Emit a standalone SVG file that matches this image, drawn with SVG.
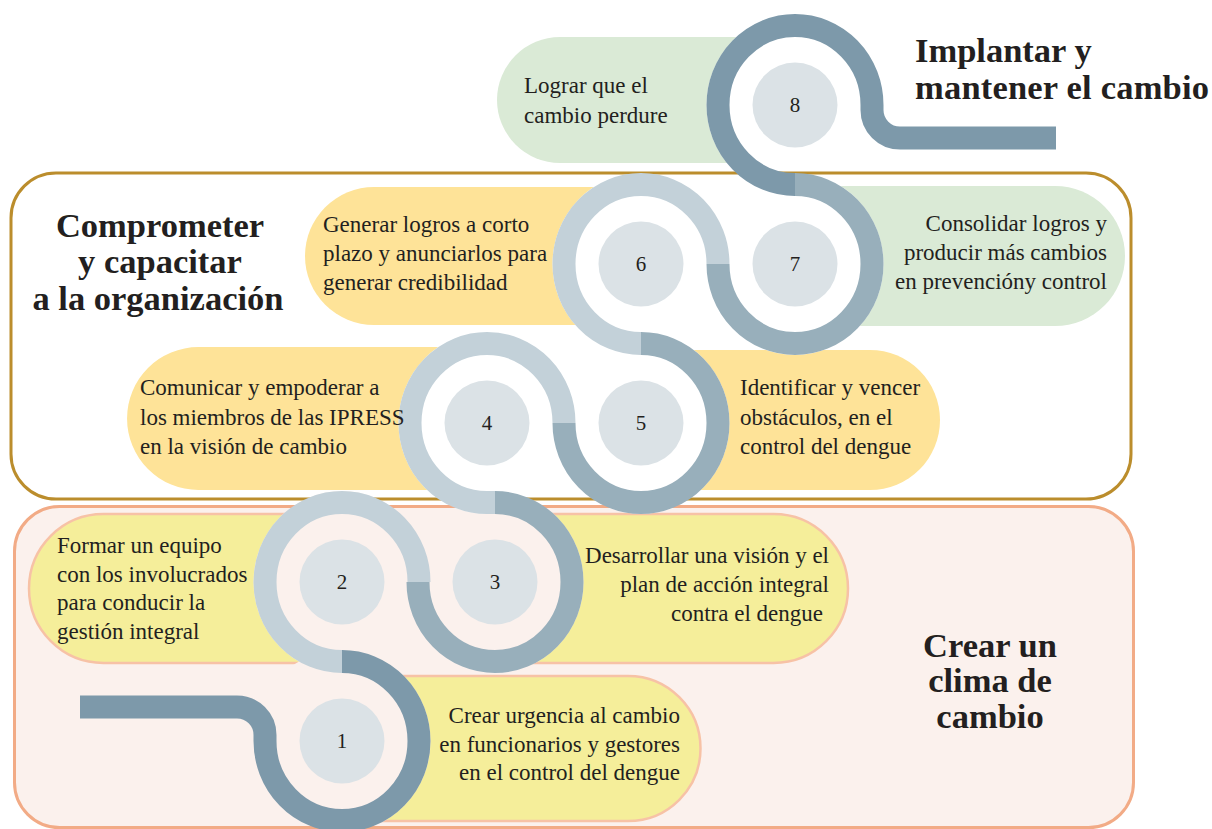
<svg xmlns="http://www.w3.org/2000/svg" width="1212" height="829" viewBox="0 0 1212 829">
<defs>
<style>
.t{font-family:"Liberation Serif","Times New Roman",serif;font-size:23px;fill:#231f20}
.h{font-family:"Liberation Serif","Times New Roman",serif;font-size:34.5px;font-weight:bold;fill:#231f20}
.n{font-family:"Liberation Serif","Times New Roman",serif;font-size:21px;fill:#231f20;text-anchor:middle}
.e{text-anchor:end}
.m{text-anchor:middle}
.yb{fill:#f5ee9a;stroke:#f7c2a6;stroke-width:2.5}
.ob{fill:#fee398}
.gb{fill:#daead6}
.dp{fill:#fbf1ed}
.dw{fill:#ffffff}
.r{fill:none;stroke-width:23}
.rd{stroke:#7d99aa}
.rm{stroke:#98afbb}
.rl{stroke:#c3d1d9}
.ic{fill:#dbe2e6}
</style>
</defs>
<rect width="1212" height="829" fill="#ffffff"/>
<g id="frame-implantar">
<text class="h" x="915" y="62">Implantar y</text>
<text class="h" x="915" y="99" textLength="294">mantener el cambio</text>
</g>
<g id="frame-comprometer">
<rect x="11" y="173" width="1120" height="326" rx="45" fill="#ffffff"/>
<text class="h m" x="160" y="237">Comprometer</text>
<text class="h m" x="160" y="273">y capacitar</text>
<text class="h m" x="158" y="310">a la organización</text>
</g>
<g id="frame-crear">
<rect x="14.5" y="506.5" width="1119" height="321" rx="45" fill="#fbf1ed"/>
<text class="h m" x="990" y="657">Crear un</text>
<text class="h m" x="990" y="692">clima de</text>
<text class="h m" x="990" y="728">cambio</text>
</g>
<g id="boxes">
<path id="box1" class="yb" d="M342 676 H628 A72.5 72.5 0 0 1 628 821 H342 Z"/>
<path id="box2" class="yb" d="M342 514 H103.5 A74.5 74.5 0 0 0 103.5 663 H342 Z"/>
<path id="box3" class="yb" d="M495 514 H773.5 A74.5 74.5 0 0 1 773.5 663 H495 Z"/>
<path id="box4" class="ob" d="M487 347 H198.5 A71.5 71.5 0 0 0 198.5 490 H487 Z"/>
<path id="box5" class="ob" d="M641 350 H870 A70 70 0 0 1 870 490 H641 Z"/>
<path id="box6" class="ob" d="M641 187 H374 A69 69 0 0 0 374 325 H641 Z"/>
<path id="box7" class="gb" d="M795 186 H1055 A70 70 0 0 1 1055 326 H795 Z"/>
<path id="box8" class="gb" d="M795 37 H560 A63 63 0 0 0 560 163 H795 Z"/>
</g>
<g id="discs">
<ellipse class="dp" cx="342" cy="741" rx="88.5" ry="91"/>
<ellipse class="dp" cx="342" cy="582" rx="88.5" ry="91"/>
<ellipse class="dp" cx="495" cy="582" rx="88.5" ry="91"/>
<ellipse class="dw" cx="487" cy="423" rx="88.5" ry="91"/>
<ellipse class="dw" cx="641" cy="423" rx="88.5" ry="91"/>
<ellipse class="dw" cx="641" cy="264" rx="88.5" ry="91"/>
<ellipse class="dw" cx="795" cy="264" rx="88.5" ry="91"/>
<ellipse class="dw" cx="795" cy="105" rx="88.5" ry="91"/>
</g>
<g id="frame-lines" fill="none">
<rect x="11" y="173" width="1120" height="326" rx="45" stroke="#bb8d2c" stroke-width="3"/>
<rect x="14.5" y="506.5" width="1119" height="321" rx="45" stroke="#f2ab86" stroke-width="3"/>
</g>
<g id="connectors">
<path class="r rd" d="M80 707 H237 A28 28 0 0 1 265 735 V741 A77 79.5 0 1 0 342 661.5"/>
<path class="r rl" d="M342 661.5 A77 79.5 0 1 1 419 582"/>
<path class="r rm" d="M418 582 A77 79.5 0 1 0 495 502.5"/>
<path class="r rl" d="M495 502.5 H487 A77 79.5 0 1 1 564 423"/>
<path class="r rm" d="M564 423 A77 79.5 0 1 0 641 343.5"/>
<path class="r rl" d="M641 343.5 A77 79.5 0 1 1 718 264"/>
<path class="r rm" d="M718 264 A77 79.5 0 1 0 795 184.5"/>
<path class="r rd" d="M795 184.5 A77 79.5 0 1 1 872 105 V110 A28 28 0 0 0 900 138 H1056"/>
</g>
<g id="step1"><circle class="ic" cx="342" cy="741" r="42.5"/><text class="n" x="342" y="748">1</text>
<text class="t e" x="680" y="723">Crear urgencia al cambio</text>
<text class="t e" x="680" y="752">en funcionarios y gestores</text>
<text class="t e" x="680" y="780">en el control del dengue</text></g>
<g id="step2"><circle class="ic" cx="342" cy="582" r="42.5"/><text class="n" x="342" y="589">2</text>
<text class="t" x="57" y="553">Formar un equipo</text>
<text class="t" x="57" y="582">con los involucrados</text>
<text class="t" x="57" y="610">para conducir la</text>
<text class="t" x="57" y="639">gestión integral</text></g>
<g id="step3"><circle class="ic" cx="495" cy="582" r="42.5"/><text class="n" x="495" y="589">3</text>
<text class="t e" x="829" y="563">Desarrollar una visión y el</text>
<text class="t e" x="829" y="592">plan de acción integral</text>
<text class="t e" x="823" y="621">contra el dengue</text></g>
<g id="step4"><circle class="ic" cx="487" cy="423" r="42.5"/><text class="n" x="487" y="430">4</text>
<text class="t" x="140" y="395">Comunicar y empoderar a</text>
<text class="t" x="140" y="425">los miembros de las IPRESS</text>
<text class="t" x="140" y="454">en la visión de cambio</text></g>
<g id="step5"><circle class="ic" cx="641" cy="423" r="42.5"/><text class="n" x="641" y="430">5</text>
<text class="t" x="740" y="395">Identificar y vencer</text>
<text class="t" x="740" y="425">obstáculos, en el</text>
<text class="t" x="740" y="454">control del dengue</text></g>
<g id="step6"><circle class="ic" cx="641" cy="264" r="42.5"/><text class="n" x="641" y="271">6</text>
<text class="t" x="323" y="232">Generar logros a corto</text>
<text class="t" x="323" y="261">plazo y anunciarlos para</text>
<text class="t" x="323" y="290">generar credibilidad</text></g>
<g id="step7"><circle class="ic" cx="795" cy="264" r="42.5"/><text class="n" x="795" y="271">7</text>
<text class="t e" x="1107" y="231">Consolidar logros y</text>
<text class="t e" x="1107" y="260">producir más cambios</text>
<text class="t e" x="1107" y="289">en prevencióny control</text></g>
<g id="step8"><circle class="ic" cx="795" cy="105" r="42.5"/><text class="n" x="795" y="112">8</text>
<text class="t" x="524" y="93">Lograr que el</text>
<text class="t" x="524" y="123">cambio perdure</text></g>
</svg>
